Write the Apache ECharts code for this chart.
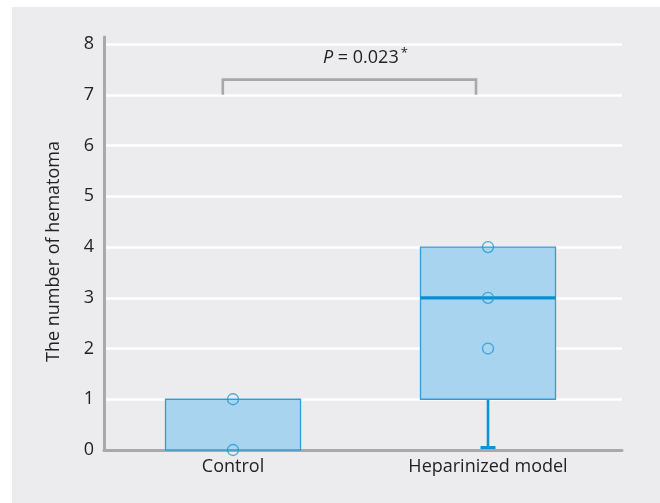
<!DOCTYPE html>
<html>
<head>
<meta charset="utf-8">
<script src="https://cdn.jsdelivr.net/npm/echarts@6/dist/echarts.min.js"></script>
<style>
  html, body { margin: 0; padding: 0; background: #ffffff; }
  #wrap { position: relative; width: 660px; height: 503px; overflow: hidden; }
  #panel { position: absolute; left: 12px; top: 7px; width: 648px; height: 496px; background: #ececee; }
  #chart { position: absolute; left: 0; top: 0; width: 660px; height: 503px; }
</style>
</head>
<body>
<div id="wrap"><div id="panel"></div><div id="chart"></div></div>
<script>
// ---- data ----
const categories = ['Control', 'Heparinized model'];
const categoryPos = [0, 1];
const boxMin    = [0, 0];
const boxQ1     = [0, 1];
const boxMedian = [null, 3];
const boxQ3     = [1, 4];
const boxMax    = [1, 4];
const pointCategory = [0, 0, 1, 1, 1];
const pointValue    = [0, 1, 2, 3, 4];
const bracketFrom = -0.04;
const bracketTo   = 0.953;
const bracketBottom = 7;
const bracketTop    = 7.3;
const pText = ['P', ' = 0.023', '*'];
const yAxisTitle = 'The number of hematoma';

const FONT = '"Open Sans", "Noto Sans", sans-serif';
const TEXT = '#232323';
const FS = 18;

const boxData = categories.map((c, i) => [categoryPos[i], boxMin[i], boxQ1[i], boxMedian[i] == null ? NaN : boxMedian[i], boxQ3[i], boxMax[i]]);
const pointData = pointCategory.map((c, i) => [categoryPos[c], pointValue[i]]);

function renderBox(params, api) {
  const i = api.value(0);
  const half = 67.5;
  const pMin = api.coord([i, api.value(1)]);
  const pQ1 = api.coord([i, api.value(2)]);
  const pQ3 = api.coord([i, api.value(4)]);
  const pMax = api.coord([i, api.value(5)]);
  const cx = pQ1[0];
  const children = [];
  if (pMin[1] > pQ1[1] + 0.5) {
    children.push({ type: 'line', shape: { x1: cx, y1: pQ1[1], x2: cx, y2: pMin[1] - 2 }, style: { stroke: '#0e92d6', lineWidth: 2.6 } });
    children.push({ type: 'line', shape: { x1: cx - 7.5, y1: pMin[1] - 2.5, x2: cx + 7.5, y2: pMin[1] - 2.5 }, style: { stroke: '#0e92d6', lineWidth: 3 } });
  }
  if (pMax[1] < pQ3[1] - 0.5) {
    children.push({ type: 'line', shape: { x1: cx, y1: pQ3[1], x2: cx, y2: pMax[1] + 2 }, style: { stroke: '#0e92d6', lineWidth: 2.6 } });
    children.push({ type: 'line', shape: { x1: cx - 7.5, y1: pMax[1] + 2.5, x2: cx + 7.5, y2: pMax[1] + 2.5 }, style: { stroke: '#0e92d6', lineWidth: 3 } });
  }
  children.push({
    type: 'rect',
    shape: { x: cx - half, y: pQ3[1], width: half * 2, height: pQ1[1] - pQ3[1] },
    style: { fill: '#a9d4f0', stroke: '#2c9fd9', lineWidth: 1.3 }
  });
  const med = api.value(3);
  if (!isNaN(med)) {
    const pMed = api.coord([i, med]);
    children.push({ type: 'line', shape: { x1: cx - half, y1: pMed[1], x2: cx + half, y2: pMed[1] }, style: { stroke: '#0b8fd4', lineWidth: 3.2 } });
  }
  return { type: 'group', children: children };
}

function renderBracket(params, api) {
  const a = api.coord([api.value(0), api.value(3)]);
  const b = api.coord([api.value(1), api.value(3)]);
  const bot = api.coord([api.value(0), api.value(2)]);
  const x1 = a[0], x2 = b[0], yT = a[1], yB = bot[1];
  return {
    type: 'group',
    children: [
      { type: 'polyline', shape: { points: [[x1, yB], [x1, yT], [x2, yT], [x2, yB]] }, style: { stroke: '#a8a8a8', lineWidth: 2.6, fill: null } },
      {
        type: 'text',
        style: {
          x: (x1 + x2) / 2 + 16, y: yT - 22,
          text: '{i|' + pText[0] + '}' + pText[1] + '{s|' + pText[2] + '}',
          align: 'center', verticalAlign: 'middle',
          fill: TEXT, font: FS + 'px ' + FONT,
          rich: {
            i: { fontStyle: 'italic', fontSize: FS, fontFamily: FONT, fill: TEXT },
            s: { fontSize: 13, fontFamily: FONT, fill: TEXT, verticalAlign: 'top', padding: [0, 0, 9, 2] }
          }
        }
      }
    ]
  };
}

const chart = echarts.init(document.getElementById('chart'), null, { renderer: 'canvas' });
chart.setOption({
  backgroundColor: 'transparent',
  animation: false,
  grid: { left: 104, right: 38, top: 37, bottom: 53 },
  xAxis: {
    type: 'value',
    min: -0.506, max: 1.5255,
    axisLine: { onZero: false, lineStyle: { color: '#a9a9a9', width: 3 } },
    axisTick: { show: false },
    axisLabel: {
      color: TEXT, fontSize: FS, fontFamily: FONT, margin: 8,
      customValues: categoryPos,
      formatter: v => categories[categoryPos.indexOf(Math.round(v))] || ''
    },
    splitLine: { show: false }
  },
  yAxis: {
    type: 'value',
    min: 0, max: 8.14, interval: 1,
    name: yAxisTitle,
    nameLocation: 'middle',
    nameGap: 41,
    nameTextStyle: { color: TEXT, fontSize: FS, fontFamily: FONT, padding: [0, 16, 0, 0] },
    axisLine: { show: true, onZero: false, lineStyle: { color: '#a9a9a9', width: 3 } },
    axisTick: { show: false },
    axisLabel: { color: TEXT, fontSize: FS, fontFamily: FONT, margin: 10, showMaxLabel: false },
    splitLine: { show: true, showMinLine: false, showMaxLine: false, lineStyle: { color: '#ffffff', width: 2.5 } }
  },
  series: [
    {
      type: 'custom',
      renderItem: renderBox,
      data: boxData,
      encode: { x: 0, y: [1, 2, 3, 4, 5] },
      z: 3
    },
    {
      type: 'scatter',
      data: pointData,
      symbol: 'circle',
      symbolSize: 11,
      itemStyle: { color: 'rgba(0,0,0,0)', borderColor: '#1b98d5', borderWidth: 1.3 },
      z: 5
    },
    {
      type: 'custom',
      renderItem: renderBracket,
      data: [[bracketFrom, bracketTo, bracketBottom, bracketTop]],
      encode: { x: [0, 1], y: [2, 3] },
      z: 4
    }
  ]
});
</script>
</body>
</html>
